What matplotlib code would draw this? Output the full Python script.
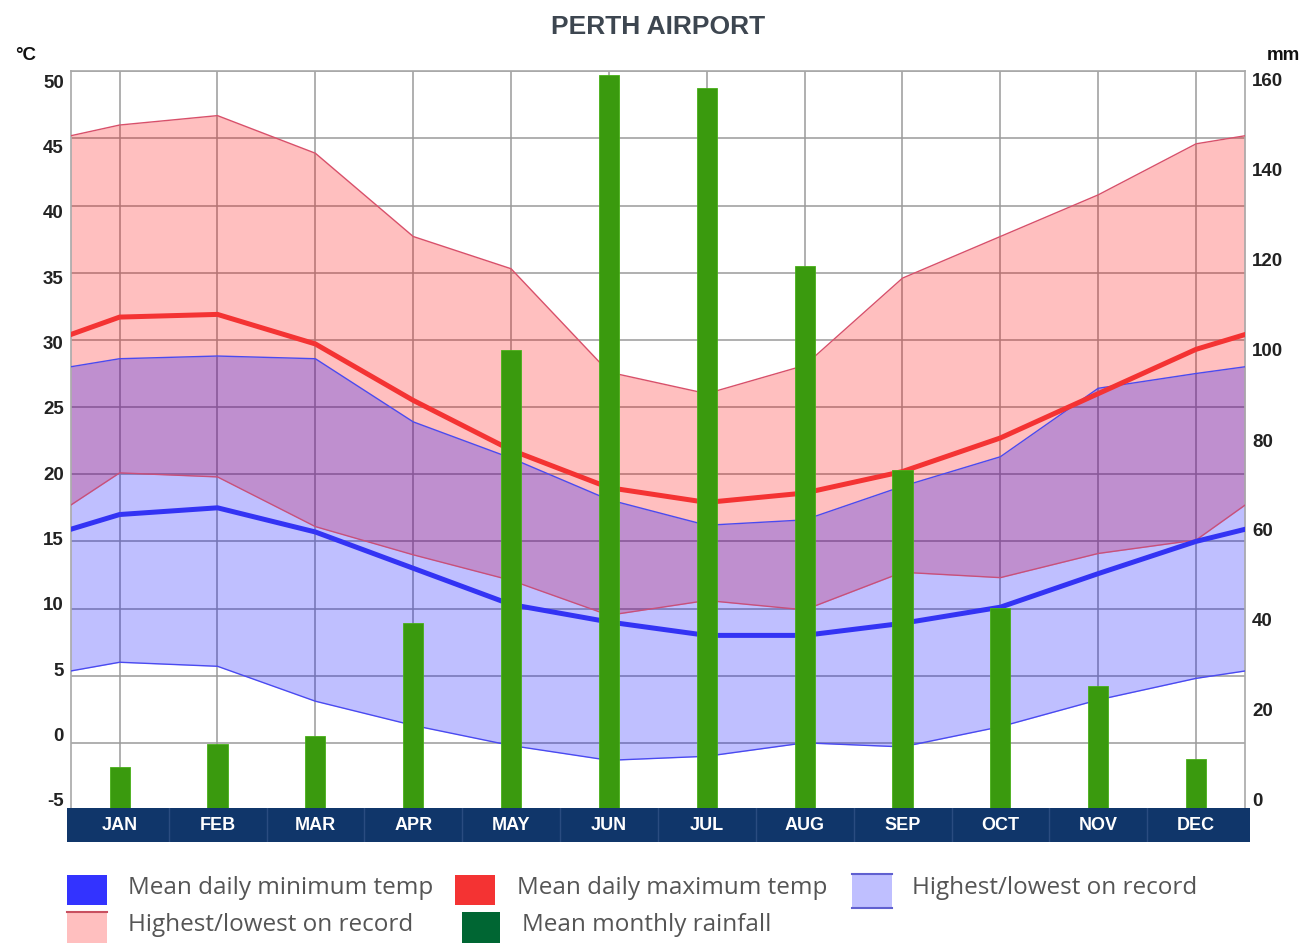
import matplotlib.pyplot as plt
from matplotlib.patches import Rectangle
from matplotlib.lines import Line2D
import numpy as np

plt.rcParams['axes.unicode_minus'] = False

W, H = 1308, 943

months = ['JAN', 'FEB', 'MAR', 'APR', 'MAY', 'JUN', 'JUL', 'AUG', 'SEP', 'OCT', 'NOV', 'DEC']

# temperatures (degC), one per month
rec_high = [46.0, 46.7, 43.9, 37.7, 35.3, 27.6, 26.0, 28.1, 34.6, 37.7, 40.8, 44.6]
low_max = [20.1, 19.8, 16.1, 14.0, 12.1, 9.5, 10.6, 9.9, 12.7, 12.3, 14.1, 15.1]
mean_max = [31.7, 31.9, 29.7, 25.5, 21.8, 19.0, 17.9, 18.6, 20.2, 22.7, 26.0, 29.3]
high_min = [28.6, 28.8, 28.6, 23.9, 21.2, 18.1, 16.2, 16.6, 19.1, 21.3, 26.4, 27.5]
mean_min = [17.0, 17.5, 15.7, 13.0, 10.3, 9.0, 8.0, 8.0, 8.9, 10.1, 12.6, 15.0]
rec_low = [6.0, 5.7, 3.1, 1.3, -0.2, -1.3, -1.0, 0.0, -0.3, 1.2, 3.2, 4.8]

# values where the curves meet the left/right edge of the chart (dec/jan)
edge_rec_high = 45.2
edge_low_max = 17.7
edge_mean_max = 30.4
edge_high_min = 28.0
edge_mean_min = 15.9
edge_rec_low = 5.35

# rainfall (mm)
rainfall = [9.4, 14.3, 16.0, 40.6, 99.6, 159.2, 156.3, 117.9, 73.6, 43.7, 26.9, 11.0]

temp_ticks = list(range(-5, 51, 5))
rain_ticks = list(range(0, 161, 20))


def with_edges(vals, edge):
    return [edge] + list(vals) + [edge]


x = np.arange(12)
xe = np.concatenate([[-0.5], x, [11.5]])

PTOP, PBOT = 71.3, 810.0  # plot area, pixels from top
rect = [70.7 / W, 1 - PBOT / H, (1245 - 70.7) / W, (PBOT - PTOP) / H]

fig = plt.figure(figsize=(W / 100, H / 100), dpi=100)
ax = fig.add_axes(rect)

# grid
ax.set_xticks(x)
ax.set_yticks(temp_ticks)
ax.grid(True, color='#9a9a9a', lw=1.1, zorder=0)
ax.set_axisbelow(True)

# record bands
ax.fill_between(xe, with_edges(low_max, edge_low_max), with_edges(rec_high, edge_rec_high),
                color=(1, 0, 0), alpha=0.25, lw=0, zorder=1)
ax.fill_between(xe, with_edges(rec_low, edge_rec_low), with_edges(high_min, edge_high_min),
                color=(0, 0, 1), alpha=0.25, lw=0, zorder=2)
ax.plot(xe, with_edges(rec_high, edge_rec_high), color='#d8506a', lw=1, zorder=3)
ax.plot(xe, with_edges(low_max, edge_low_max), color='#c8507a', lw=1, zorder=3)
ax.plot(xe, with_edges(high_min, edge_high_min), color='#4a4af0', lw=1, zorder=3)
ax.plot(xe, with_edges(rec_low, edge_rec_low), color='#4a4af0', lw=1, zorder=3)

# means
ax.plot(xe, with_edges(mean_max, edge_mean_max), color='#f43333', lw=3.6, zorder=4,
        solid_joinstyle='round')
ax.plot(xe, with_edges(mean_min, edge_mean_min), color='#3333f4', lw=3.6, zorder=4,
        solid_joinstyle='round')

ax.set_xlim(-0.5, 11.5)
ax.set_ylim(-5, 50)
ax.tick_params(length=0, labelbottom=False, labelleft=False)
for s in ['left', 'right', 'top']:
    ax.spines[s].set_color('#a8a8a8')
    ax.spines[s].set_linewidth(1.2)
ax.spines['bottom'].set_visible(False)

# rainfall bars on second axis
ax2 = ax.twinx()
ax2.bar(x, rainfall, width=0.205, color='#3a9a0e', edgecolor='#48b018', lw=0.6, zorder=5)
ax2.set_ylim(0, 160)
ax2.tick_params(length=0, labelright=False)
ax2.set_yticks([])
for s in ax2.spines.values():
    s.set_visible(False)


# tick labels: the original spreads them a little inside the plot height
def label_axis(ticks, y_top, y_bot, side):
    a = fig.add_axes(rect, frameon=False)
    a.patch.set_visible(False)
    per_px = (ticks[-1] - ticks[0]) / (y_bot - y_top)
    a.set_ylim(ticks[0] - (PBOT - y_bot) * per_px, ticks[-1] + (y_top - PTOP) * per_px)
    a.set_xticks([])
    a.set_yticks(ticks)
    a.yaxis.set_ticks_position(side)
    a.tick_params(axis='y', length=0, pad=5, labelsize=13.5, labelcolor='#222222',
                  left=(side == 'left'), right=(side == 'right'),
                  labelleft=(side == 'left'), labelright=(side == 'right'))
    for lbl in a.get_yticklabels():
        lbl.set_fontweight('bold')
        lbl.set_fontfamily('Liberation Sans')
    return a


label_axis(temp_ticks, 81.0, 800.0, 'left')
label_axis(rain_ticks, 80.0, 800.0, 'right')

# month band
band = fig.add_axes([67 / W, 1 - 842 / H, (1250 - 67) / W, 34 / H])
band.set_facecolor('#10366a')
band.set_xlim(-0.54, 11.55)
band.set_ylim(0, 1)
for i in range(1, 12):
    band.axvline(i - 0.5, color='#2a4c80', lw=1)
for i, m in enumerate(months):
    band.text(i, 0.5, m, color='white', fontsize=13, fontweight='bold',
              family='Liberation Sans', ha='center', va='center')
band.set_xticks([])
band.set_yticks([])
for s in band.spines.values():
    s.set_visible(False)

# titles / units
fig.text(658 / W, 1 - 27 / H, 'PERTH AIRPORT', ha='center', va='center', fontsize=19,
         fontweight='bold', color='#3d4650', family='Liberation Sans')
fig.text(26 / W, 1 - 55 / H, '\u00b0C', ha='center', va='center', fontsize=13.5,
         fontweight='bold', color='#111111', family='Liberation Sans')
fig.text(1283 / W, 1 - 55 / H, 'mm', ha='center', va='center', fontsize=13.5,
         fontweight='bold', color='#111111', family='Liberation Sans')


# legend
def box(x0, y0, x1, y1, fc, top=None, bottom=None):
    fig.add_artist(Rectangle((x0 / W, 1 - y1 / H), (x1 - x0) / W, (y1 - y0) / H,
                             transform=fig.transFigure, facecolor=fc, edgecolor='none'))
    if top:
        fig.add_artist(Line2D([x0 / W, x1 / W], [1 - y0 / H] * 2, color=top, lw=1.5,
                              transform=fig.transFigure))
    if bottom:
        fig.add_artist(Line2D([x0 / W, x1 / W], [1 - y1 / H] * 2, color=bottom, lw=1.5,
                              transform=fig.transFigure))


def leg_text(x0, yc, s):
    fig.text(x0 / W, 1 - yc / H, s, ha='left', va='center', fontsize=17.5,
             color='#555555', family='Open Sans')


box(67, 875, 107, 905, '#3333ff')
leg_text(128, 888, 'Mean daily minimum temp')
box(455, 875, 495, 905, '#f43333')
leg_text(517, 888, 'Mean daily maximum temp')
box(852, 874, 892, 908, '#bfbfff', top='#6060d0', bottom='#6060d0')
leg_text(912, 888, 'Highest/lowest on record')
box(67, 912, 107, 943, '#ffbfbf', top='#c85060')
leg_text(128, 925, 'Highest/lowest on record')
box(462, 912, 500, 943, '#006633')
leg_text(522, 925, 'Mean monthly rainfall')

fig.savefig('out.png', dpi=100)
